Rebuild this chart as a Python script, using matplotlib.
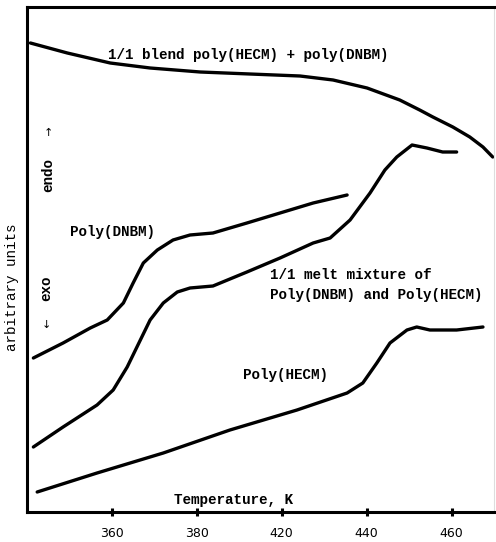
import matplotlib
matplotlib.use("Agg")
import matplotlib.pyplot as plt

# ---- data (temperature in K on the plotted scale, signal in arbitrary units) ----
blend_T = [340.8, 349.5, 359.6, 369.0, 380.8, 392.5, 404.3, 412.1, 420.1, 427.8, 432.5, 435.6, 440.3, 444.3, 447.4, 449.7]
blend_y = [469, 459, 449, 444, 440, 438, 436, 432, 424, 412, 402, 395, 385, 375, 365, 355]

dnbm_T = [341.5, 348.5, 354.9, 358.9, 362.7, 365.0, 367.4, 370.7, 374.4, 378.4, 383.8, 391.8, 399.6, 407.4, 415.4]
dnbm_y = [154, 169, 184, 192, 209, 229, 249, 262, 272, 277, 279, 289, 299, 309, 317]

melt_T = [341.5, 348.5, 356.5, 360.3, 363.6, 366.7, 369.0, 372.1, 375.4, 378.4, 383.8, 391.8, 399.6,
          407.4, 411.4, 416.1, 420.8, 424.3, 427.1, 430.7, 434.2, 437.9, 441.2]
melt_y = [65, 85, 107, 122, 145, 172, 192, 209, 220, 224, 226, 240, 254,
          269, 274, 292, 319, 342, 355, 367, 364, 360, 360]

hecm_T = [342.4, 356.5, 372.1, 387.8, 403.6, 415.4, 419.1, 422.4, 425.5, 429.5, 431.8, 434.9, 441.2, 447.4]
hecm_y = [20, 39, 59, 82, 102, 119, 129, 149, 169, 182, 185, 182, 182, 185]

tick_pos = [360, 380, 400, 420, 440]
tick_labels = ["360", "380", "420", "440", "460"]

MONO = "Liberation Mono"

fig = plt.figure(figsize=(4.96, 5.42), dpi=100)
ax = fig.add_axes([27 / 496, 1 - 512 / 542, (494 - 27) / 496, (512 - 7) / 542])

lw = 2.4
for T, y in [(blend_T, blend_y), (dnbm_T, dnbm_y), (melt_T, melt_y), (hecm_T, hecm_y)]:
    ax.plot(T, y, color="black", lw=lw, solid_capstyle="round", solid_joinstyle="round")

ax.set_xlim(340, 450)
ax.set_ylim(0, 505)
ax.set_yticks([])
ax.set_xticks(tick_pos)
ax.set_xticklabels(tick_labels, fontfamily="DejaVu Sans", fontsize=9)
ax.tick_params(axis="x", direction="inout", length=6, width=2.2, pad=8)

for side in ["left", "bottom", "top"]:
    ax.spines[side].set_linewidth(2.2)
    ax.spines[side].set_color("black")
ax.spines["right"].set_linewidth(0.8)
ax.spines["right"].set_color("#dddddd")

fs = 10.3
ax.text(359.1, 457, "1/1 blend poly(HECM) + poly(DNBM)", fontfamily=MONO, fontweight="bold",
        fontsize=fs, ha="left", va="center")
ax.text(350.2, 280, "Poly(DNBM)", fontfamily=MONO, fontweight="bold", fontsize=fs, ha="left", va="center")
ax.text(397.2, 237, "1/1 melt mixture of", fontfamily=MONO, fontweight="bold", fontsize=fs,
        ha="left", va="center")
ax.text(397.2, 217, "Poly(DNBM) and Poly(HECM)", fontfamily=MONO, fontweight="bold", fontsize=fs,
        ha="left", va="center")
ax.text(390.9, 137, "Poly(HECM)", fontfamily=MONO, fontweight="bold", fontsize=fs, ha="left", va="center")
ax.text(388.6, 12, "Temperature, K", fontfamily=MONO, fontweight="bold", fontsize=fs, ha="center", va="center")

# endo / exo indicators
ax.text(345.0, 379, "↑", fontfamily="DejaVu Sans", fontsize=8, ha="center", va="center")
ax.text(345.0, 337, "endo", fontfamily=MONO, fontweight="bold", fontsize=fs, rotation=90,
        ha="center", va="center")
ax.text(344.5, 224, "exo", fontfamily=MONO, fontweight="bold", fontsize=fs, rotation=90,
        ha="center", va="center")
ax.text(344.5, 187, "↓", fontfamily="DejaVu Sans", fontsize=8, ha="center", va="center")

fig.text(12 / 496, 1 - 287 / 542, "arbitrary units", fontfamily=MONO, fontsize=fs, rotation=90,
         ha="center", va="center")

fig.savefig("out.png", dpi=100)
